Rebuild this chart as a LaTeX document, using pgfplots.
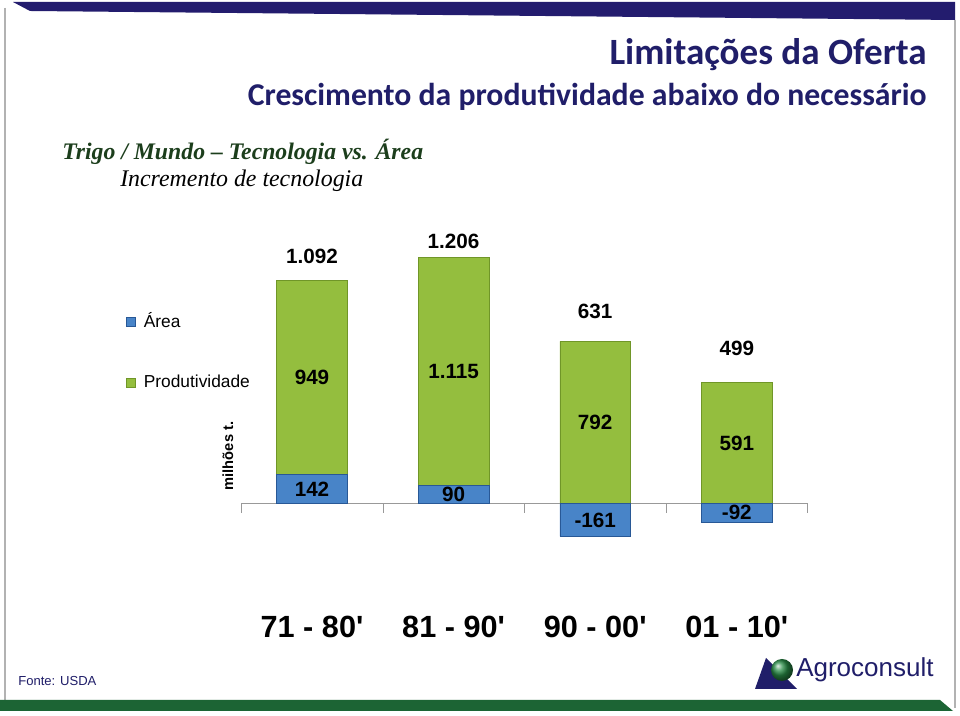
\documentclass[border=0pt]{standalone}
\usepackage{pgfplots}
\pgfplotsset{compat=1.18}
\usepackage{pgfplotstable}
\usepackage{fontspec}
\setmainfont{Liberation Sans}
\newfontfamily\carlito{Carlito}
\newfontfamily\serifit{Liberation Serif}
\definecolor{titlenavy}{RGB}{32,30,105}
\definecolor{bandnavy}{RGB}{35,28,110}
\definecolor{bandgreen}{RGB}{28,100,52}
\definecolor{subgreen}{RGB}{28,62,28}
\definecolor{bargreen}{RGB}{148,190,62}
\definecolor{bargreendk}{RGB}{112,150,40}
\definecolor{barblue}{RGB}{72,132,200}
\definecolor{barbluedk}{RGB}{40,88,150}
\definecolor{logogreen}{RGB}{40,140,70}

\pgfplotstableread{
cat area prod total toty
0 142 949 1092 1207
1 90 1115 1206 1280
2 -161 792 631 938
3 -92 591 499 759
}\data

\begin{document}
\begin{tikzpicture}[x=0.75pt,y=0.75pt]
\path[use as bounding box, fill=white] (0,0) rectangle (960,716);
% slide frame
\draw[gray!60, line width=0.8pt] (5,708) -- (5,16);
\draw[gray!60, line width=0.8pt] (955,696) -- (955,8);
\fill[bandnavy] (13,714) -- (955,714) -- (955,696) -- (30,705) -- cycle;
\fill[bandgreen] (0,16) -- (940,16) -- (953,5) -- (0,5) -- cycle;
% titles
\node[anchor=base east, inner sep=0pt, text=titlenavy, font=\carlito\bfseries\fontsize{27.8}{32}\selectfont] at (927,651) {Limitações da Oferta};
\node[anchor=base east, inner sep=0pt, text=titlenavy, font=\carlito\bfseries\fontsize{23.8}{28}\selectfont] at (927,610) {Crescimento da produtividade abaixo do necessário};
\node[anchor=base west, inner sep=0pt, text=subgreen, font=\serifit\bfseries\itshape\fontsize{17.8}{20}\selectfont] at (62,556) {Trigo / Mundo – Tecnologia vs. Área};
\node[anchor=base west, inner sep=0pt, font=\serifit\itshape\fontsize{17.9}{20}\selectfont] at (120,529) {Incremento de tecnologia};
\node[anchor=base west, inner sep=0pt, text=titlenavy, font=\fontsize{9.8}{11}\selectfont] at (18,30) {Fonte: USDA};
% logo
\fill[titlenavy] (755,27) -- (766,58) -- (797,27) -- cycle;
\shade[ball color=logogreen] (782,46) circle (11);
\node[anchor=base west, inner sep=0pt, text=titlenavy, font=\fontsize{19.5}{22}\selectfont] at (796,39) {Agroconsult};
% y label
\node[rotate=90, font=\bfseries\fontsize{11}{13}\selectfont] at (228,260) {milhões t.};

\begin{axis}[
  at={(180.9pt,73.5pt)}, anchor=south west, scale only axis,
  width=424.8pt, height=285.3pt,
  xmin=-0.5, xmax=3.5, ymin=-560, ymax=1300,
  axis line style={draw=none},
  ytick=\empty,
  xtick={0,1,2,3},
  xticklabels={{71 - 80\textquotesingle},{81 - 90\textquotesingle},{90 - 00\textquotesingle},{01 - 10\textquotesingle}},
  major tick length=0pt,
  xticklabel style={font=\bfseries\fontsize{23}{26}\selectfont, anchor=base, yshift=-14.3pt},
  /pgf/number format/1000 sep={.},
  /pgf/number format/assume math mode=true,
  clip=false,
  legend style={at={(axis description cs:-0.2034,0.8097)}, anchor=north west, draw=none, fill=none,
    font=\fontsize{13}{15}\selectfont, row sep=30pt, inner sep=0pt, cells={anchor=west},
    /tikz/every odd column/.append style={column sep=4pt}},
  reverse legend,
]
\draw[gray!80] (axis cs:-0.5,0) -- (axis cs:3.5,0);
\draw[gray!80] (axis cs:-0.5,0) -- ++(0pt,-7.5pt);
\draw[gray!80] (axis cs:0.5,0) -- ++(0pt,-7.5pt);
\draw[gray!80] (axis cs:1.5,0) -- ++(0pt,-7.5pt);
\draw[gray!80] (axis cs:2.5,0) -- ++(0pt,-7.5pt);
\draw[gray!80] (axis cs:3.5,0) -- ++(0pt,-7.5pt);

\addplot[ybar, bar width=52.9pt, bar shift=0pt, fill=bargreen, draw=bargreendk,
  legend image code/.code={\fill[bargreen, draw=bargreendk] (0pt,-3.4pt) rectangle (6.8pt,3.4pt);}]
  table[x=cat, y expr={\thisrow{prod}+max(\thisrow{area},0)}] {\data};
\addlegendentry{Produtividade}
\addplot[ybar, bar width=52.9pt, bar shift=0pt, fill=barblue, draw=barbluedk,
  legend image code/.code={\fill[barblue, draw=barbluedk] (0pt,-3.4pt) rectangle (6.8pt,3.4pt);}]
  table[x=cat, y=area] {\data};
\addlegendentry{Área}

\addplot[draw=none, mark=none, forget plot, nodes near coords, point meta=explicit,
  nodes near coords align={center},
  nodes near coords style={anchor=center, font=\bfseries\fontsize{15.5}{18}\selectfont}]
  table[x=cat, y expr={max(\thisrow{area},0)+\thisrow{prod}/2}, meta=prod] {\data};
\addplot[draw=none, mark=none, forget plot, nodes near coords, point meta=explicit,
  nodes near coords align={center},
  nodes near coords style={anchor=center, font=\bfseries\fontsize{15.5}{18}\selectfont}]
  table[x=cat, y expr={\thisrow{area}/2}, meta=area] {\data};
\addplot[draw=none, mark=none, forget plot, nodes near coords, point meta=explicit,
  nodes near coords align={center},
  nodes near coords style={anchor=center, font=\bfseries\fontsize{15.5}{18}\selectfont}]
  table[x=cat, y=toty, meta=total] {\data};
\end{axis}
\end{tikzpicture}
\end{document}
